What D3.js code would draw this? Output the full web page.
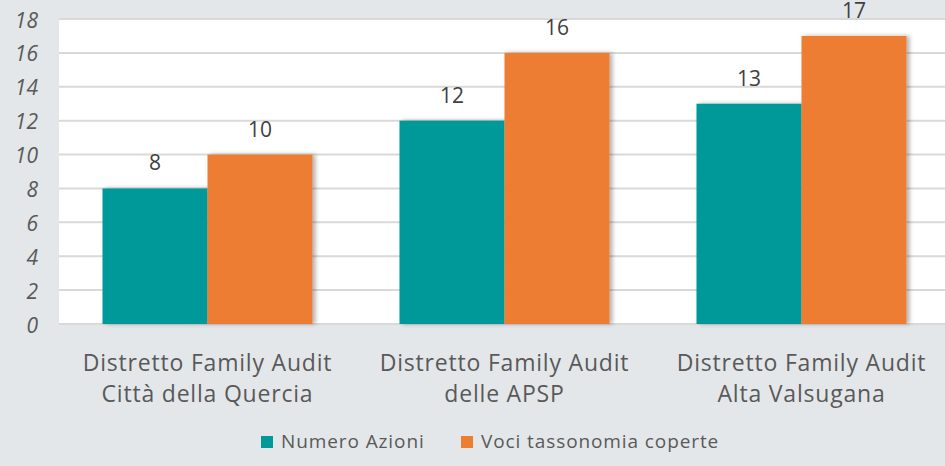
<!DOCTYPE html>
<html>
<head>
<meta charset="utf-8">
<script src="https://cdn.jsdelivr.net/npm/d3@7"></script>
<style>
  body { margin: 0; background: #e4e7ea; }
  svg { display: block; }
</style>
</head>
<body>
<script>
/* DATA */
var categories = [
  ['Distretto Family Audit', 'Città della Quercia'],
  ['Distretto Family Audit', 'delle APSP'],
  ['Distretto Family Audit', 'Alta Valsugana']
];
var seriesNames = ['Numero Azioni', 'Voci tassonomia coperte'];
var azioni = [8, 12, 13];
var voci   = [10, 16, 17];
var yTicks = [0, 2, 4, 6, 8, 10, 12, 14, 16, 18];

/* LAYOUT */
var w = 945, h = 466;
var plot = { left: 59, right: 950, top: 19, bottom: 324 };
var font = '"Open Sans", "Noto Sans", sans-serif';
var c = {
  bg:    '#e4e7ea',
  plot:  '#ffffff',
  grid:  '#d9d9d9',
  teal:  '#009999',
  orange:'#ed7d31',
  text:  '#595959',
  label: '#404040'
};

var svg = d3.select('body').append('svg')
  .attr('width', w).attr('height', h);

var defs = svg.append('defs');
var f = defs.append('filter').attr('id', 'shadow')
  .attr('x', '-10%').attr('y', '-10%').attr('width', '130%').attr('height', '120%');
f.append('feDropShadow').attr('dx', 3).attr('dy', 0)
  .attr('stdDeviation', 2).attr('flood-color', '#000').attr('flood-opacity', 0.3);

svg.append('rect').attr('width', w).attr('height', h).attr('fill', c.bg);
svg.append('rect')
  .attr('x', plot.left).attr('y', plot.top)
  .attr('width', plot.right - plot.left).attr('height', plot.bottom - plot.top)
  .attr('fill', c.plot);

var x = d3.scaleBand().domain(d3.range(categories.length))
  .range([plot.left, plot.right]).paddingInner(0).paddingOuter(0);
var x1 = d3.scaleBand().domain([0, 1])
  .range([0, x.bandwidth()]).paddingInner(0).paddingOuter(0.414);
var y = d3.scaleLinear().domain([0, 18]).range([plot.bottom, plot.top]);

/* GRID */
svg.append('g').selectAll('line').data(yTicks).enter().append('line')
  .attr('x1', plot.left).attr('x2', plot.right)
  .attr('y1', function(d){ return y(d); }).attr('y2', function(d){ return y(d); })
  .attr('stroke', c.grid).attr('stroke-width', 2);

/* Y AXIS */
var yAxis = d3.axisLeft(y).tickValues(yTicks).tickSize(0).tickPadding(0);
var ya = svg.append('g').attr('transform', 'translate(38,0)').call(yAxis);
ya.select('.domain').remove();
ya.selectAll('text')
  .attr('fill', c.text).attr('dy', 8)
  .style('font-family', font)
  .style('font-size', '21px').style('font-style', 'italic');

/* BARS */
var series = [azioni, voci];
var colors = [c.teal, c.orange];
var groups = svg.append('g').selectAll('g').data(categories).enter().append('g')
  .attr('transform', function(d, i){ return 'translate(' + x(i) + ',0)'; });

groups.each(function(d, i){
  var g = d3.select(this);
  series.forEach(function(s, k){
    g.append('rect')
      .attr('x', x1(k)).attr('width', x1.bandwidth())
      .attr('y', y(s[i])).attr('height', y(0) - y(s[i]))
      .attr('fill', colors[k]).attr('filter', 'url(#shadow)');
  });
  series.forEach(function(s, k){
    g.append('text')
      .attr('x', x1(k) + x1.bandwidth() / 2).attr('y', y(s[i]) - 18)
      .attr('text-anchor', 'middle').attr('fill', c.label)
      .style('font-family', font).style('font-size', '21px')
      .text(s[i]);
  });
});

/* CATEGORY LABELS */
groups.append('text')
  .attr('x', x.bandwidth() / 2).attr('text-anchor', 'middle')
  .attr('fill', c.text)
  .style('font-family', font).style('font-size', '23px').style('letter-spacing', '0.8px')
  .selectAll('tspan').data(function(d){ return d; }).enter().append('tspan')
    .attr('x', x.bandwidth() / 2)
    .attr('y', function(d, j){ return 371 + j * 31; })
    .text(function(d){ return d; });

/* LEGEND */
var legX = [261, 461];
var leg = svg.append('g');
seriesNames.forEach(function(name, k){
  leg.append('rect').attr('x', legX[k]).attr('y', 436).attr('width', 12).attr('height', 12)
    .attr('fill', colors[k]);
  leg.append('text').attr('x', legX[k] + 20).attr('y', 448)
    .attr('fill', c.text)
    .style('font-family', font).style('font-size', '19px').style('letter-spacing', '0.9px')
    .text(name);
});
</script>
</body>
</html>
